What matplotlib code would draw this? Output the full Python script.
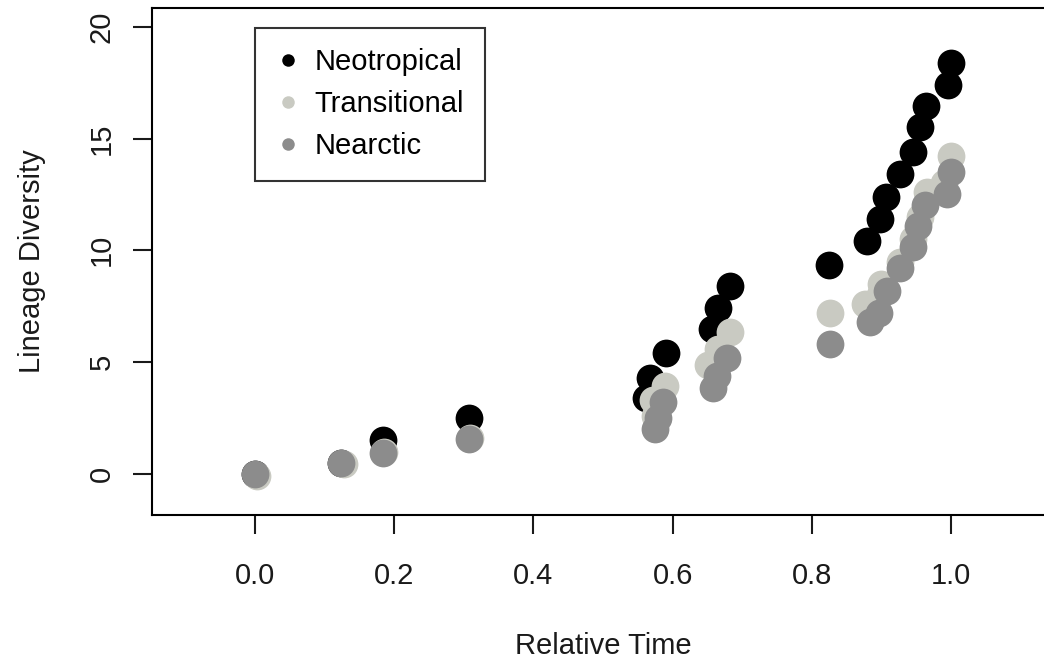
import matplotlib.pyplot as plt
from matplotlib.lines import Line2D

plt.rcParams['font.family'] = ['Liberation Sans', 'DejaVu Sans']

# values
neo_x = [0.0, 0.124, 0.184, 0.307, 0.562, 0.567, 0.590, 0.657, 0.665, 0.682,
         0.825, 0.879, 0.898, 0.907, 0.927, 0.945, 0.955, 0.964, 0.996, 1.0]
neo_y = [0, 0.5, 1.5, 2.5, 3.4, 4.3, 5.4, 6.5, 7.4, 8.4,
         9.35, 10.4, 11.4, 12.4, 13.4, 14.4, 15.5, 16.45, 17.4, 18.4]

tra_x = [0.003, 0.128, 0.186, 0.309, 0.575, 0.572, 0.589, 0.651, 0.665, 0.682,
         0.826, 0.876, 0.898, 0.900, 0.927, 0.945, 0.955, 0.965, 0.990, 1.0]
tra_y = [-0.1, 0.45, 1.0, 1.6, 2.6, 3.3, 3.95, 4.85, 5.6, 6.35,
         7.2, 7.6, 8.0, 8.5, 9.5, 10.5, 11.5, 12.6, 13.0, 14.2]

nea_x = [0.0, 0.124, 0.184, 0.307, 0.575, 0.579, 0.586, 0.658, 0.664, 0.678,
         0.826, 0.884, 0.897, 0.908, 0.927, 0.945, 0.953, 0.963, 0.994, 1.0]
nea_y = [0, 0.5, 0.95, 1.55, 2.0, 2.5, 3.2, 3.85, 4.4, 5.2,
         5.8, 6.8, 7.2, 8.2, 9.2, 10.15, 11.1, 12.05, 12.5, 13.5]

labels = ['Neotropical', 'Transitional', 'Nearctic']
colors = ['#000000', '#c9cac2', '#8c8c8c']

fig = plt.figure(figsize=(10.44, 6.63), dpi=100)
ax = fig.add_axes([0.1456, 0.2232, 0.864, 0.7647])

for xs, ys, c in zip([neo_x, tra_x, nea_x], [neo_y, tra_y, nea_y], colors):
    ax.scatter(xs, ys, s=400, color=c, linewidths=0, zorder=3)

ax.set_xlim(-0.148, 1.148)
ax.set_ylim(-1.84, 20.84)
ax.set_xticks([0.0, 0.2, 0.4, 0.6, 0.8, 1.0])
ax.set_xticklabels(['0.0', '0.2', '0.4', '0.6', '0.8', '1.0'])
ax.set_yticks([0, 5, 10, 15, 20])
ax.set_yticklabels(['0', '5', '10', '15', '20'], rotation=90, va='center')

for sp in ax.spines.values():
    sp.set_linewidth(1.5)
ax.tick_params(axis='both', direction='out', length=14, width=1.5,
               labelsize=21, colors='#1a1a1a')
ax.tick_params(axis='x', pad=20)
ax.tick_params(axis='y', pad=12)

ax.set_xlabel('Relative Time', fontsize=21, color='#1a1a1a', labelpad=30)
ax.set_ylabel('Lineage Diversity', fontsize=21, color='#1a1a1a', labelpad=30)

handles = [Line2D([], [], marker='o', linestyle='none', markersize=9,
                  markerfacecolor=c, markeredgewidth=0) for c in colors]
leg = ax.legend(handles, labels, loc='upper left', bbox_to_anchor=(0.114, 0.9606),
                fontsize=21, frameon=True, fancybox=False, borderaxespad=0,
                labelspacing=0.48, handletextpad=0.45, borderpad=0.7,
                handlelength=0.9)
leg.get_frame().set_edgecolor('black')
leg.get_frame().set_linewidth(1.5)

fig.savefig('out.png', dpi=100)
